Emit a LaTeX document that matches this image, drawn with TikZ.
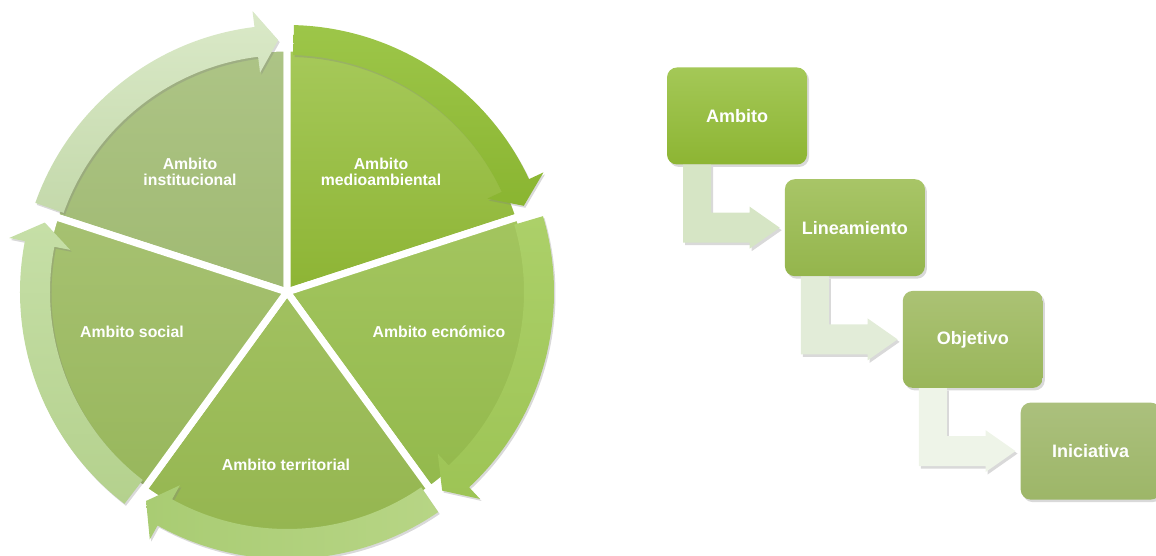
\documentclass[tikz,border=0pt]{standalone}
\usepackage{fontspec}
\setmainfont{Liberation Sans}
\usepackage{tikz}
\usetikzlibrary{positioning}
\usetikzlibrary{shadows}

\definecolor{instA}{HTML}{ADC486}
\definecolor{instB}{HTML}{A0BA72}
\definecolor{medA}{HTML}{A6C95A}
\definecolor{medB}{HTML}{8DB434}
\definecolor{ecoA}{HTML}{A3C55F}
\definecolor{ecoB}{HTML}{93B94C}
\definecolor{terrA}{HTML}{A1C160}
\definecolor{terrB}{HTML}{94B54F}
\definecolor{socA}{HTML}{A6C171}
\definecolor{socB}{HTML}{98B75C}
\definecolor{instR}{HTML}{DAE9C8}
\definecolor{instRb}{HTML}{C4D9AB}
\definecolor{medR}{HTML}{9DC649}
\definecolor{medRb}{HTML}{8AB531}
\definecolor{ecoR}{HTML}{ACD069}
\definecolor{ecoRb}{HTML}{9DC455}
\definecolor{terrR}{HTML}{B7D585}
\definecolor{terrRb}{HTML}{A9CC73}
\definecolor{socR}{HTML}{C6DFA7}
\definecolor{socRb}{HTML}{B4D18D}
\definecolor{ambA}{HTML}{A4C857}
\definecolor{ambB}{HTML}{8DB533}
\definecolor{linA}{HTML}{A8C567}
\definecolor{linB}{HTML}{94B54C}
\definecolor{objA}{HTML}{ABC274}
\definecolor{objB}{HTML}{99B65A}
\definecolor{iniA}{HTML}{ABC07D}
\definecolor{iniB}{HTML}{9DB668}
\definecolor{connA}{HTML}{D6E5C5}
\definecolor{connB}{HTML}{E2ECD8}
\definecolor{connC}{HTML}{EEF4E8}

\begin{document}
\begin{tikzpicture}[x=1pt,y=1pt,
			slice/.style={draw=white,line width=7pt,line join=round},
			ring arrow/.style={drop shadow={opacity=.3,shadow xshift=1.5pt,shadow yshift=-2pt}},
			pie label/.style={text=white,align=center,
				font=\bfseries\fontsize{15.8}{16}\selectfont},
			step node/.style={rounded corners=10pt,minimum width=140pt,minimum height=97pt,
				inner sep=0pt,text=white,font=\bfseries\fontsize{18}{20}\selectfont,
				drop shadow={opacity=.3,shadow xshift=2pt,shadow yshift=-2.5pt}},
			bend arrow/.style={drop shadow={opacity=.3,shadow xshift=2pt,shadow yshift=-2.5pt}}]
			
			\useasboundingbox (0,0) rectangle (1156,556);
			\coordinate (ctr) at (287,264);
			
			\begin{scope}[shift={(ctr)}]
				\path[slice,top color=instA,bottom color=instB] (0,0) -- (162:244) arc[start angle=162,end angle=90,radius=244pt] -- cycle;
				\path[slice,top color=medA,bottom color=medB] (0,0) -- (90:244) arc[start angle=90,end angle=18,radius=244pt] -- cycle;
				\path[slice,top color=ecoA,bottom color=ecoB] (0,0) -- (18:244) arc[start angle=18,end angle=-54,radius=244pt] -- cycle;
				\path[slice,top color=terrA,bottom color=terrB] (0,0) -- (-54:244) arc[start angle=-54,end angle=-126,radius=244pt] -- cycle;
				\path[slice,top color=socA,bottom color=socB] (0,0) -- (234:244) arc[start angle=234,end angle=162,radius=244pt] -- cycle;
				
				\path[ring arrow,top color=instR,bottom color=instRb] (160.5:267) arc[start angle=160.5,end angle=97,radius=267pt]
					-- (97:283) -- (92:252) -- (97:221) -- (97:237) arc[start angle=97,end angle=160.5,radius=237pt] -- cycle;
				\path[ring arrow,top color=medR,bottom color=medRb] (88.5:267) arc[start angle=88.5,end angle=25,radius=267pt]
					-- (25:283) -- (20:252) -- (25:221) -- (25:237) arc[start angle=25,end angle=88.5,radius=237pt] -- cycle;
				\path[ring arrow,top color=ecoR,bottom color=ecoRb] (16.5:267) arc[start angle=16.5,end angle=-47,radius=267pt]
					-- (-47:283) -- (-52:252) -- (-47:221) -- (-47:237) arc[start angle=-47,end angle=16.5,radius=237pt] -- cycle;
				\path[ring arrow,left color=terrRb,right color=terrR] (-55.5:267) arc[start angle=-55.5,end angle=-119,radius=267pt]
					-- (-119:283) -- (-124:252) -- (-119:221) -- (-119:237) arc[start angle=-119,end angle=-55.5,radius=237pt] -- cycle;
				\path[ring arrow,top color=socR,bottom color=socRb] (232.5:267) arc[start angle=232.5,end angle=169,radius=267pt]
					-- (169:283) -- (164:252) -- (169:221) -- (169:237) arc[start angle=169,end angle=232.5,radius=237pt] -- cycle;
			\end{scope}
			
			\node[pie label] (inst) at (190,384) {Ambito\\institucional};
			\node[pie label] (medio) at (381,384) {Ambito\\medioambiental};
			\node[pie label] (social) at (132,224) {Ambito social};
			\node[pie label] (econ) at (439,224) {Ambito ecnómico};
			\node[pie label] (terr) at (286,91) {Ambito territorial};
			
			\node[step node,top color=ambA,bottom color=ambB] (amb) at (737,440) {Ambito};
			\node[step node,top color=linA,bottom color=linB] (lin) [below right=14.3pt and -22.5pt of amb] {Lineamiento};
			\node[step node,top color=objA,bottom color=objB] (obj) [below right=14.3pt and -22.5pt of lin] {Objetivo};
			\node[step node,top color=iniA,bottom color=iniB] (ini) [below right=14.3pt and -22.5pt of obj] {Iniciativa};
			
			\fill[bend arrow,connA] ([xshift=-54pt]amb.south) |- ([xshift=-35pt,yshift=-15pt]lin.west) -- ++(0,-6)
				-- ([xshift=-5pt]lin.west) -- ([xshift=-35pt,yshift=21pt]lin.west) -- ++(0,-6) -| ([xshift=-26pt]amb.south) -- cycle;
			\fill[bend arrow,connB] ([xshift=-54pt]lin.south) |- ([xshift=-35pt,yshift=-15pt]obj.west) -- ++(0,-6)
				-- ([xshift=-5pt]obj.west) -- ([xshift=-35pt,yshift=21pt]obj.west) -- ++(0,-6) -| ([xshift=-26pt]lin.south) -- cycle;
			\fill[bend arrow,connC] ([xshift=-54pt]obj.south) |- ([xshift=-35pt,yshift=-15pt]ini.west) -- ++(0,-6)
				-- ([xshift=-5pt]ini.west) -- ([xshift=-35pt,yshift=21pt]ini.west) -- ++(0,-6) -| ([xshift=-26pt]obj.south) -- cycle;
		\end{tikzpicture}
\end{document}
